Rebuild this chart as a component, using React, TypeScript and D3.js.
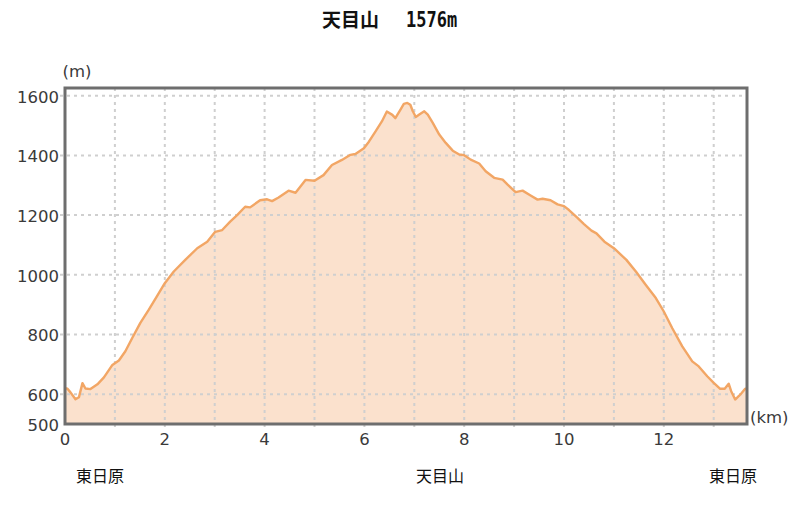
import React from "react";
import * as d3 from "d3";

const distanceKm = [
  0.0, 0.05, 0.11, 0.21, 0.28, 0.35, 0.41, 0.51, 0.65, 0.78, 0.95, 1.08, 1.21, 1.35, 1.51, 1.68, 1.85,
  2.0, 2.18, 2.41, 2.65, 2.85, 3.01, 3.15, 3.31, 3.45, 3.61, 3.71, 3.91, 4.05, 4.15, 4.28, 4.48, 4.62,
  4.82, 5.0, 5.18, 5.35, 5.55, 5.72, 5.82, 5.99, 6.09, 6.22, 6.35, 6.45, 6.56, 6.62, 6.72, 6.79, 6.86,
  6.92, 6.97, 7.03, 7.1, 7.2, 7.27, 7.37, 7.5, 7.63, 7.77, 7.9, 8.0, 8.13, 8.3, 8.43, 8.6, 8.77, 8.87,
  9.03, 9.17, 9.33, 9.47, 9.57, 9.73, 9.87, 10.0, 10.1, 10.27, 10.4, 10.55, 10.65, 10.81, 11.0, 11.25,
  11.44, 11.64, 11.84, 12.0, 12.17, 12.37, 12.57, 12.7, 12.87, 13.0, 13.13, 13.22, 13.3, 13.35, 13.43,
  13.5, 13.56, 13.63, 13.66,
];
const elevationM = [
  620, 618, 606, 583, 590, 637, 619, 617, 633, 656, 698, 713, 744, 789, 839, 883, 930,
  972, 1011, 1050, 1089, 1111, 1144, 1150, 1178, 1200, 1228, 1226, 1250, 1253, 1247, 1259, 1282, 1275,
  1318, 1315, 1334, 1368, 1385, 1402, 1405, 1424, 1446, 1480, 1514, 1547, 1536, 1525, 1553, 1573, 1576,
  1570, 1548, 1529, 1537, 1548, 1537, 1509, 1470, 1442, 1416, 1403, 1401, 1386, 1373, 1347, 1325, 1319, 1302,
  1277, 1282, 1266, 1252, 1255, 1250, 1236, 1230, 1217, 1191, 1170, 1148, 1139, 1111, 1089, 1050,
  1011, 966, 922, 877, 821, 760, 710, 693, 660, 638, 618, 618, 635, 610, 582,
  593, 604, 618, 618,
];
const yTickValues = [500, 600, 800, 1000, 1200, 1400, 1600];
const yGridValues = [600, 800, 1000, 1200, 1400, 1600];
const xTickValues = [0, 2, 4, 6, 8, 10, 12];
const xGridValues = [1, 2, 3, 4, 5, 6, 7, 8, 9, 10, 11, 12, 13];
const placeLabels = [
  { name: "東日原", x: 100 },
  { name: "天目山", x: 440 },
  { name: "東日原", x: 733 },
];
const titleName = "天目山";
const titleHeight = "1576m";

const L = 65, R = 747, T = 88, B = 424;

export default function App() {
  const x = d3.scaleLinear().domain([0, 13.667]).range([L, R]);
  const y = d3.scaleLinear().domain([500, 1626]).range([B, T]);
  const data = distanceKm.map((d, i) => ({ d, e: elevationM[i] }));
  const area = d3.area<{ d: number; e: number }>().x((p) => x(p.d)).y0(y(500)).y1((p) => y(p.e));
  const line = d3.line<{ d: number; e: number }>().x((p) => x(p.d)).y((p) => y(p.e));
  const tickFont = "'DejaVu Sans', Verdana, sans-serif";
  const cjk = "'Noto Sans CJK JP', sans-serif";
  return (
    <svg width={800} height={516} style={{ position: "absolute", left: 0, top: 0, background: "#fff" }}>
      <rect x={0} y={0} width={800} height={516} fill="#fff" />
      <text x={322} y={27} fontFamily={cjk} fontSize={19} fontWeight={700} fill="#111">{titleName}</text>
      <text x={0} y={0} transform="translate(406,27) scale(1,1.25)" fontFamily="'DejaVu Sans Mono', monospace" fontSize={17} fontWeight={700} fill="#111">{titleHeight}</text>
      <path d={area(data) || ""} fill="#fbe1cd" />
      {yGridValues.map((v) => (
        <line key={"gy" + v} x1={L - 5} x2={R} y1={y(v)} y2={y(v)} stroke="#cfcfcf" strokeWidth={2} strokeDasharray="3,4" />
      ))}
      {xGridValues.map((v) => (
        <line key={"gx" + v} x1={x(v)} x2={x(v)} y1={T} y2={B + 6} stroke="#cfcfcf" strokeWidth={2} strokeDasharray="3,4" />
      ))}
      <path d={line(data) || ""} fill="none" stroke="#f2a665" strokeWidth={2.4} strokeLinejoin="round" />
      <rect x={L} y={T} width={R - L} height={B - T} fill="none" stroke="#6e6e6e" strokeWidth={3} />
      {yTickValues.map((v) => (
        <text key={"ty" + v} x={59} y={y(v) + 1.5} textAnchor="end" dominantBaseline="central" fontFamily={tickFont} fontSize={16.5} fill="#3a3a3a">{v}</text>
      ))}
      {xTickValues.map((v) => (
        <text key={"tx" + v} x={x(v)} y={445} textAnchor="middle" fontFamily={tickFont} fontSize={16.5} fill="#3a3a3a">{v}</text>
      ))}
      <text x={77} y={77} textAnchor="middle" fontFamily={tickFont} fontSize={16.5} fill="#3a3a3a">(m)</text>
      <text x={750} y={423} textAnchor="start" fontFamily={tickFont} fontSize={16.5} fill="#3a3a3a">(km)</text>
      {placeLabels.map((p, i) => (
        <text key={"p" + i} x={p.x} y={482} textAnchor="middle" fontFamily={cjk} fontSize={16} fill="#111">{p.name}</text>
      ))}
    </svg>
  );
}
